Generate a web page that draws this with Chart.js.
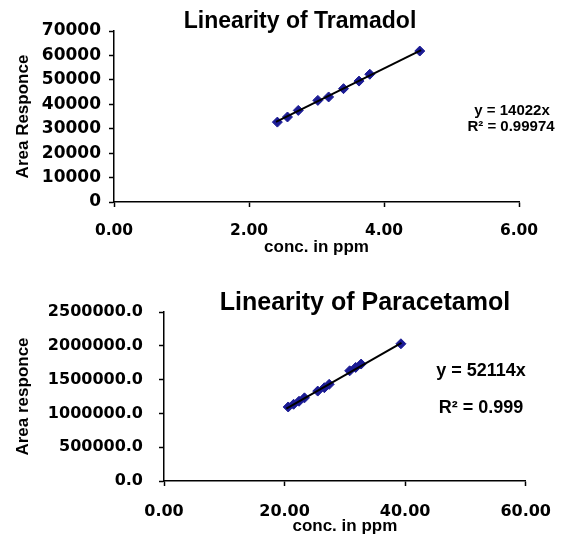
<!DOCTYPE html>
<html>
<head>
<meta charset="utf-8">
<script src="https://cdn.jsdelivr.net/npm/chart.js@4/dist/chart.umd.min.js"></script>
<style>
  body { margin: 0; background: #fff; }
  canvas { position: absolute; left: 0; }
  #graficoTramadol { top: 0; }
  #graficoParacetamol { top: 270px; }
</style>
</head>
<body>
<canvas id="graficoTramadol" width="567" height="265"></canvas>
<canvas id="graficoParacetamol" width="567" height="265"></canvas>
<script>
// Datos: Tramadol
const tramadolConc = [2.42, 2.57, 2.73, 3.02, 3.18, 3.40, 3.63, 3.79, 4.53];
const tramadolArea = [32700, 34800, 37500, 41600, 43000, 46400, 49500, 52300, 61800];
const tramadolTrendX = [2.40, 4.55];
const tramadolTrendY = [32800, 62200];
const tramadolEcuacion = ['y = 14022x', 'R² = 0.99974'];

// Datos: Paracetamol
const paraConc = [20.6, 21.5, 22.4, 23.3, 25.5, 26.6, 27.4, 30.8, 31.8, 32.7, 39.3];
const paraArea = [1095000, 1135000, 1180000, 1230000, 1330000, 1380000, 1430000, 1630000, 1680000, 1730000, 2030000];
const paraTrendX = [20.3, 39.4];
const paraTrendY = [1070000, 2045000];
const paraEcuacion = ['y = 52114x', 'R² = 0.999'];

// Ejes
const tramadolXTicks = { min: 0, max: 6, step: 2 };
const tramadolYTicks = { min: 0, max: 70000, step: 10000 };
const paraXTicks = { min: 0, max: 60, step: 20 };
const paraYTicks = { min: 0, max: 2500000, step: 500000 };

const azul = '#1b1b94';
const fuenteEjes = { family: 'Liberation Sans', weight: 'bold', size: 17, lineHeight: 1 };

// Plugin para dibujar titulo y ecuacion en posiciones fijas
const textosPlugin = {
    id: 'textos',
    afterDraw(chart, args, opts) {
        const ctx = chart.ctx;
        ctx.save();
        ctx.fillStyle = '#000';
        ctx.textAlign = 'center';
        ctx.textBaseline = 'middle';
        opts.items.forEach(t => {
            ctx.font = t.font;
            ctx.fillText(t.text, t.x, t.y);
        });
        ctx.restore();
    }
};

function puntos(xs, ys) {
    return xs.map((x, i) => ({ x: x, y: ys[i] }));
}

function crearGrafico(canvasId, cfg) {
    const ctx = document.getElementById(canvasId).getContext('2d');
    return new Chart(ctx, {
        type: 'scatter',
        data: {
            datasets: [{
                type: 'line',
                data: puntos(cfg.trendX, cfg.trendY),
                borderColor: '#000',
                borderWidth: 2,
                pointRadius: 0,
                fill: false
            }, {
                data: puntos(cfg.xs, cfg.ys),
                pointStyle: 'rectRot',
                pointRadius: 5,
                backgroundColor: azul,
                borderColor: azul,
                borderWidth: 1
            }]
        },
        options: {
            responsive: false,
            animation: false,
            layout: { padding: cfg.padding },
            scales: {
                x: {
                    type: 'linear',
                    min: cfg.xTicks.min,
                    max: cfg.xTicks.max,
                    afterFit: s => { s.height = cfg.xHeight; },
                    grid: { drawOnChartArea: false, tickLength: 5, tickColor: '#000', tickWidth: 1.5 },
                    border: { color: '#000', width: 1.5 },
                    ticks: {
                        stepSize: cfg.xTicks.step,
                        padding: cfg.xTickPad,
                        color: '#000',
                        font: { family: 'DejaVu Sans', weight: 'bold', size: cfg.xFont },
                        maxRotation: 0,
                        callback: v => v.toFixed(2)
                    },
                    title: {
                        display: true,
                        text: 'conc. in ppm',
                        color: '#000',
                        font: fuenteEjes,
                        padding: { top: 0, bottom: cfg.xTitlePad }
                    }
                },
                y: {
                    min: cfg.yTicks.min,
                    max: cfg.yTicks.max,
                    afterFit: s => { s.width = cfg.yWidth; },
                    grid: { drawOnChartArea: false, tickLength: 5, tickColor: '#000', tickWidth: 1.5 },
                    border: { color: '#000', width: 1.5 },
                    ticks: {
                        stepSize: cfg.yTicks.step,
                        padding: cfg.yTickPad,
                        color: '#000',
                        font: { family: 'DejaVu Sans', weight: 'bold', size: cfg.yFont },
                        callback: cfg.yFormato
                    },
                    title: {
                        display: true,
                        text: cfg.yTitulo,
                        color: '#000',
                        font: fuenteEjes,
                        padding: { top: 5, bottom: 0 }
                    }
                }
            },
            plugins: {
                legend: { display: false },
                tooltip: { enabled: false },
                textos: { items: cfg.textos }
            }
        },
        plugins: [textosPlugin]
    });
}

crearGrafico('graficoTramadol', {
    xs: tramadolConc, ys: tramadolArea,
    trendX: tramadolTrendX, trendY: tramadolTrendY,
    xTicks: tramadolXTicks, yTicks: tramadolYTicks,
    padding: { left: 10, top: 31, right: 48, bottom: 0 },
    xHeight: 63, yWidth: 104,
    xTickPad: 15, xTitlePad: 9, yTickPad: 8,
    xFont: 15.5, yFont: 17,
    yTitulo: 'Area Responce',
    yFormato: v => String(v),
    textos: [
        { text: 'Linearity of Tramadol', x: 300, y: 22, font: 'bold 23px "Liberation Sans"' },
        { text: tramadolEcuacion[0], x: 512, y: 111, font: 'bold 15px "Liberation Sans"' },
        { text: tramadolEcuacion[1], x: 511, y: 127, font: 'bold 15px "Liberation Sans"' }
    ]
});

crearGrafico('graficoParacetamol', {
    xs: paraConc, ys: paraArea,
    trendX: paraTrendX, trendY: paraTrendY,
    xTicks: paraXTicks, yTicks: paraYTicks,
    padding: { left: 10, top: 42, right: 37, bottom: 0 },
    xHeight: 54, yWidth: 154,
    xTickPad: 16, xTitlePad: 0, yTickPad: 16,
    xFont: 16, yFont: 16,
    yTitulo: 'Area responce',
    yFormato: v => v.toFixed(1),
    textos: [
        { text: 'Linearity of Paracetamol', x: 365, y: 33, font: 'bold 25px "Liberation Sans"' },
        { text: paraEcuacion[0], x: 481, y: 101, font: 'bold 18px "Liberation Sans"' },
        { text: paraEcuacion[1], x: 481, y: 138, font: 'bold 18px "Liberation Sans"' }
    ]
});
</script>
</body>
</html>
